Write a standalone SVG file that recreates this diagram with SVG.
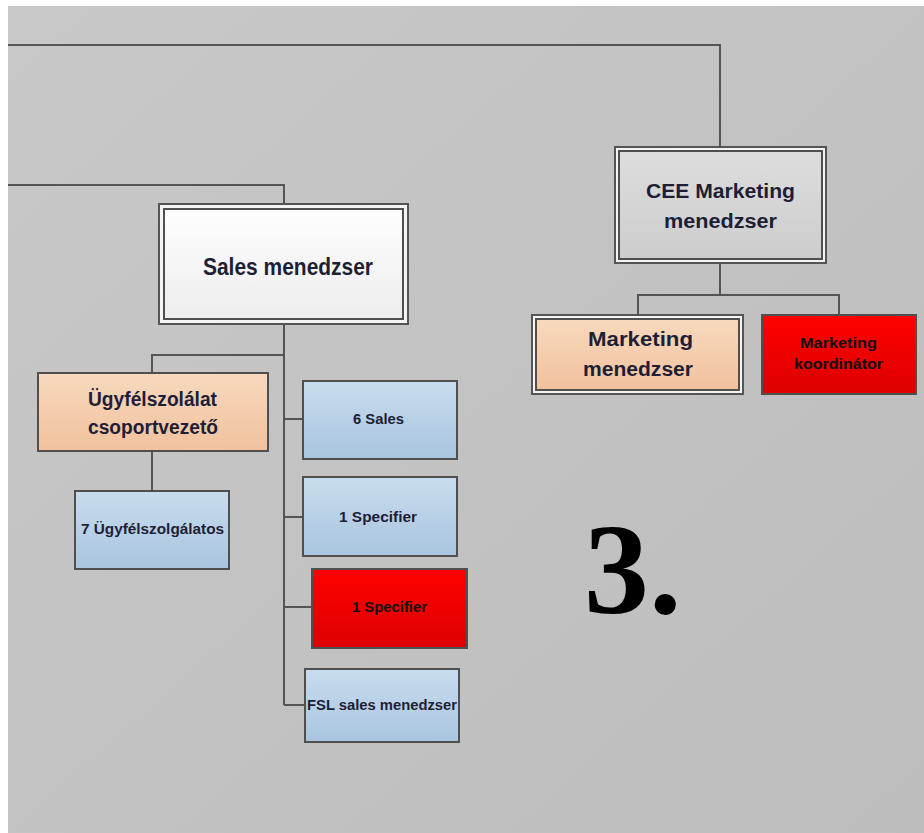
<svg xmlns="http://www.w3.org/2000/svg" width="924" height="833" viewBox="0 0 924 833">
<defs>
<linearGradient id="bg" x1="0" y1="0" x2="1" y2="1">
<stop offset="0" stop-color="#c8c8c8"/>
<stop offset="1" stop-color="#bdbdbd"/>
</linearGradient>
<linearGradient id="gWhite" x1="0" y1="0" x2="0" y2="1">
<stop offset="0" stop-color="#fefefe"/>
<stop offset="1" stop-color="#ededed"/>
</linearGradient>
<linearGradient id="gGrey" x1="0" y1="0" x2="0" y2="1">
<stop offset="0" stop-color="#dddddd"/>
<stop offset="1" stop-color="#cdcdcd"/>
</linearGradient>
<linearGradient id="gPeach" x1="0" y1="0" x2="0" y2="1">
<stop offset="0" stop-color="#f8d9be"/>
<stop offset="1" stop-color="#f1c19d"/>
</linearGradient>
<linearGradient id="gBlue" x1="0" y1="0" x2="0" y2="1">
<stop offset="0" stop-color="#c8dcee"/>
<stop offset="1" stop-color="#a9c5df"/>
</linearGradient>
<linearGradient id="gRed" x1="0" y1="0" x2="0" y2="1">
<stop offset="0" stop-color="#ff0000"/>
<stop offset="1" stop-color="#dd0000"/>
</linearGradient>
</defs>
<style>
.box{stroke:#4f4f4f;stroke-width:2}
.outer{stroke:#555;stroke-width:2;fill:#f4f4f4}
.conn{fill:none;stroke:#555;stroke-width:2}
.t{font-family:"Liberation Sans",Arial,sans-serif;font-weight:bold;text-anchor:middle;fill:#1e1e36}
.big{font-size:24px}
.mid{font-size:20px}
.sm{font-size:14px}
.blk{fill:#111}
</style>
<rect x="0" y="0" width="924" height="833" fill="#ffffff"/>
<rect x="8" y="6" width="916" height="827" fill="url(#bg)"/>

<g id="connectors">
<path class="conn" d="M8 45 H720 V147"/>
<path class="conn" d="M8 185 H284 V204"/>
<path class="conn" d="M284 324 V705"/>
<path class="conn" d="M284 355 H152 V373"/>
<path class="conn" d="M152 451 V491"/>
<path class="conn" d="M284 419 H303"/>
<path class="conn" d="M284 517 H303"/>
<path class="conn" d="M284 607 H312"/>
<path class="conn" d="M284 705 H305"/>
<path class="conn" d="M720 263 V295"/>
<path class="conn" d="M638 315 V295 H839 V315"/>
</g>

<g id="sales-menedzser">
<rect class="outer" x="159" y="204" width="249" height="120"/>
<rect class="box" x="164" y="209" width="239" height="110" fill="url(#gWhite)"/>
<text class="t big" x="288" y="275" textLength="170" lengthAdjust="spacingAndGlyphs">Sales menedzser</text>
</g>

<g id="cee-marketing-menedzser">
<rect class="outer" x="615" y="147" width="211" height="116"/>
<rect class="box" x="619" y="151" width="203" height="108" fill="url(#gGrey)"/>
<text class="t mid" x="720.5" y="198" textLength="149" lengthAdjust="spacingAndGlyphs">CEE Marketing</text>
<text class="t mid" x="720.5" y="228" textLength="113" lengthAdjust="spacingAndGlyphs">menedzser</text>
</g>

<g id="marketing-menedzser">
<rect class="outer" x="532" y="315" width="211" height="79"/>
<rect class="box" x="536" y="319" width="203" height="71" fill="url(#gPeach)"/>
<text class="t mid" x="640.5" y="346" textLength="105" lengthAdjust="spacingAndGlyphs">Marketing</text>
<text class="t mid" x="638" y="376" textLength="110" lengthAdjust="spacingAndGlyphs">menedzser</text>
</g>

<g id="marketing-koordinator">
<rect class="box" x="762" y="315" width="154" height="79" fill="url(#gRed)"/>
<text class="t sm blk" x="838.5" y="348" textLength="77" lengthAdjust="spacingAndGlyphs">Marketing</text>
<text class="t sm blk" x="838.5" y="369" textLength="89" lengthAdjust="spacingAndGlyphs">koordinátor</text>
</g>

<g id="ugyfelszolalat-csoportvezeto">
<rect class="box" x="38" y="373" width="230" height="78" fill="url(#gPeach)"/>
<text class="t mid" x="152.5" y="406" textLength="129" lengthAdjust="spacingAndGlyphs">Ügyfélszolálat</text>
<text class="t mid" x="153" y="434" textLength="130" lengthAdjust="spacingAndGlyphs">csoportvezető</text>
</g>

<g id="ugyfelszolgalatos">
<rect class="box" x="75" y="491" width="154" height="78" fill="url(#gBlue)"/>
<text class="t sm" x="152.5" y="534" textLength="143" lengthAdjust="spacingAndGlyphs">7 Ügyfélszolgálatos</text>
</g>

<g id="sales-6">
<rect class="box" x="303" y="381" width="154" height="78" fill="url(#gBlue)"/>
<text class="t sm" x="378.5" y="424" textLength="51" lengthAdjust="spacingAndGlyphs">6 Sales</text>
</g>

<g id="specifier-1">
<rect class="box" x="303" y="477" width="154" height="79" fill="url(#gBlue)"/>
<text class="t sm" x="378" y="522" textLength="78" lengthAdjust="spacingAndGlyphs">1 Specifier</text>
</g>

<g id="specifier-2">
<rect class="box" x="312" y="569" width="155" height="79" fill="url(#gRed)"/>
<text class="t sm blk" x="389.5" y="612" textLength="75" lengthAdjust="spacingAndGlyphs">1 Specifier</text>
</g>

<g id="fsl-sales-menedzser">
<rect class="box" x="305" y="669" width="154" height="73" fill="url(#gBlue)"/>
<text class="t sm" x="382" y="710" textLength="150" lengthAdjust="spacingAndGlyphs">FSL sales menedzser</text>
</g>

<text x="584" y="613" font-family="'Liberation Serif','Times New Roman',serif" font-weight="bold" font-size="130" fill="#000">3.</text>
</svg>
